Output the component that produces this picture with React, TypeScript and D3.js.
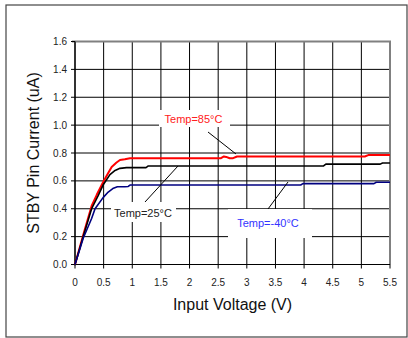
import React from "react";
import * as d3 from "d3";

const xTicks = [0, 0.5, 1, 1.5, 2, 2.5, 3, 3.5, 4, 4.5, 5, 5.5];
const yTicks = [0, 0.2, 0.4, 0.6, 0.8, 1.0, 1.2, 1.4, 1.6];

const v85 = [0, 0.15, 0.29, 0.38, 0.49, 0.57, 0.64, 0.72, 0.785, 0.87, 0.96, 2.55, 2.6, 2.64, 2.7, 2.76, 2.83, 5.06, 5.12, 5.5];
const i85 = [0, 0.22, 0.42, 0.5, 0.59, 0.65, 0.7, 0.73, 0.75, 0.755, 0.763, 0.763, 0.775, 0.772, 0.762, 0.763, 0.775, 0.775, 0.785, 0.785];

const v25 = [0, 0.15, 0.29, 0.4, 0.49, 0.61, 0.7, 0.785, 0.9, 1.24, 1.28, 4.34, 4.38, 5.33, 5.37, 5.5];
const i25 = [0, 0.21, 0.4, 0.49, 0.57, 0.645, 0.675, 0.69, 0.695, 0.695, 0.707, 0.707, 0.72, 0.72, 0.728, 0.728];

const vM40 = [0, 0.145, 0.29, 0.35, 0.49, 0.58, 0.66, 0.74, 0.87, 0.93, 0.96, 3.94, 3.98, 5.22, 5.26, 5.5];
const iM40 = [0, 0.19, 0.33, 0.4, 0.48, 0.52, 0.545, 0.558, 0.558, 0.56, 0.57, 0.57, 0.58, 0.58, 0.59, 0.59];

const series = [
  { name: "Temp=85°C", v: v85, i: i85, color: "#ff0000", width: 2 },
  { name: "Temp=25°C", v: v25, i: i25, color: "#000000", width: 1.6 },
  { name: "Temp=-40°C", v: vM40, i: iM40, color: "#000080", width: 1.6 },
];

const font = "'Liberation Sans', Arial, sans-serif";

export default function App() {
  const x = d3.scaleLinear().domain([0, 5.5]).range([75, 390]);
  const y = d3.scaleLinear().domain([0, 1.6]).range([264.5, 41.5]);
  const line = d3
    .line<[number, number]>()
    .x((d) => x(d[0]))
    .y((d) => y(d[1]));

  const x0 = x(0), x1 = x(5.5), y0 = y(0), y1 = y(1.6);

  return (
    <svg width={408} height={338} style={{ position: "absolute", left: 0, top: 0 }} fontFamily={font}>
      <rect x={0} y={0} width={408} height={338} fill="#fff" />
      <rect x={6} y={5} width={401} height={332} fill="none" stroke="#444" strokeWidth={1.2} />
      {/* grid */}
      {xTicks.map((t) => (
        <line key={"gx" + t} x1={x(t)} x2={x(t)} y1={y1} y2={y0} stroke="#000" strokeWidth={1} />
      ))}
      {yTicks.map((t) => (
        <line key={"gy" + t} x1={x0} x2={x1} y1={y(t)} y2={y(t)} stroke="#000" strokeWidth={1} />
      ))}
      {/* top & right borders */}
      <line x1={x0 - 3} x2={x1 + 1} y1={y1} y2={y1} stroke="#808080" strokeWidth={2} />
      <line x1={x1} x2={x1} y1={y1} y2={y0} stroke="#808080" strokeWidth={2} />
      {/* axes */}
      <line x1={x0} x2={x0} y1={y1} y2={y0 + 1} stroke="#000" strokeWidth={1.2} />
      <line x1={x0} x2={x1} y1={y0} y2={y0} stroke="#000" strokeWidth={1.2} />
      {yTicks.map((t) => (
        <g key={"yt" + t}>
          <line x1={x0 - 4} x2={x0} y1={y(t)} y2={y(t)} stroke="#000" />
          <text x={67} y={y(t) + 3.5} textAnchor="end" fontSize={10} fill="#222">
            {t.toFixed(1)}
          </text>
        </g>
      ))}
      {xTicks.map((t) => (
        <g key={"xt" + t}>
          <line x1={x(t)} x2={x(t)} y1={y0} y2={y0 + 4} stroke="#000" />
          <text x={x(t)} y={285.5} textAnchor="middle" fontSize={10} fill="#222">
            {String(t)}
          </text>
        </g>
      ))}
      {/* axis titles */}
      <text x={232.5} y={310} textAnchor="middle" fontSize={16} fill="#111">
        Input Voltage (V)
      </text>
      <text transform={`translate(39,153) rotate(-90)`} textAnchor="middle" fontSize={16} fill="#111">
        STBY Pin Current (uA)
      </text>
      {/* label boxes */}
      <rect x={159} y={110} width={71} height={17} fill="#fff" />
      <rect x={111} y={202} width={65} height={20} fill="#fff" />
      <rect x={228} y={209} width={84} height={29} fill="#fff" />
      {/* curves */}
      {series.map((s) => (
        <path
          key={s.name}
          d={line(s.v.map((v, k) => [v, s.i[k]] as [number, number])) || ""}
          fill="none"
          stroke={s.color}
          strokeWidth={s.width}
          strokeLinejoin="round"
        />
      ))}
      {/* leader lines */}
      <line x1={208} y1={132} x2={236} y2={154} stroke="#000" strokeWidth={1} />
      <line x1={145} y1={202} x2={178} y2={166} stroke="#000" strokeWidth={1} />
      <line x1={268} y1={209} x2={288} y2={182} stroke="#000" strokeWidth={1} />
      {/* labels */}
      <text x={193.5} y={123} textAnchor="middle" fontSize={11} fill="#ff2020">
        Temp=85°C
      </text>
      <text x={143} y={217} textAnchor="middle" fontSize={11} fill="#222">
        Temp=25°C
      </text>
      <text x={268} y={227} textAnchor="middle" fontSize={11} fill="#3333ff">
        Temp=-40°C
      </text>
    </svg>
  );
}
